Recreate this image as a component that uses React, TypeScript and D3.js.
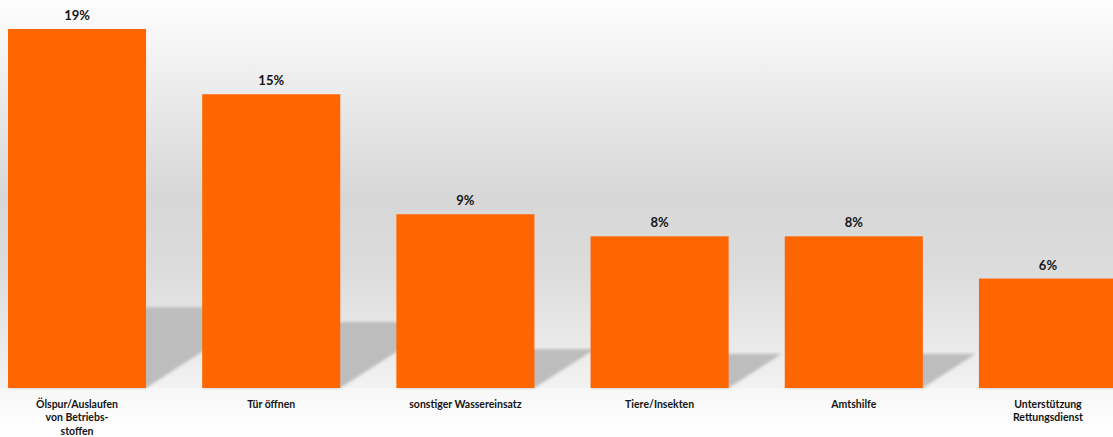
import React, { useEffect } from "react";
import * as d3 from "d3";

const categories: string[] = [
  "Ölspur/Auslaufen\nvon Betriebs-\nstoffen",
  "Tür öffnen",
  "sonstiger Wassereinsatz",
  "Tiere/Insekten",
  "Amtshilfe",
  "Unterstützung\nRettungsdienst",
];
const values: number[] = [18.7, 15.3, 9.05, 7.9, 7.9, 5.7];
const valueLabels: string[] = ["19%", "15%", "9%", "8%", "8%", "6%"];

const W = 1113;
const H = 437;
const BASE = 388;

export default function App() {
  useEffect(() => {
    document.body.style.margin = "0";
  }, []);

  const x = d3
    .scaleBand<string>()
    .domain(categories)
    .range([8, 1117])
    .paddingInner(0.289)
    .paddingOuter(0);
  const y = d3.scaleLinear().domain([0, 20]).range([BASE, 4]);

  const font = "Lato, 'Open Sans', sans-serif";

  return (
    <svg
      width={W}
      height={H}
      style={{ display: "block", position: "absolute", left: 0, top: 0 }}
    >
      <defs>
        <linearGradient id="bg" x1="0" y1="0" x2="0" y2="1">
          <stop offset="0" stopColor="#fdfdfd" />
          <stop offset="0.45" stopColor="#d7d7d7" />
          <stop offset="0.62" stopColor="#dcdcdc" />
          <stop offset="0.888" stopColor="#f2f2f2" />
          <stop offset="0.889" stopColor="#f7f7f7" />
          <stop offset="1" stopColor="#ffffff" />
        </linearGradient>
        <filter id="blur" x="-20%" y="-20%" width="140%" height="140%">
          <feGaussianBlur stdDeviation="1.6" />
        </filter>
      </defs>
      <rect x={0} y={0} width={W} height={H} fill="url(#bg)" />
      <g filter="url(#blur)">
        {categories.map((c, i) => {
          const x0 = x(c)!;
          const x1 = x0 + x.bandwidth();
          const h = BASE - y(values[i]);
          const hs = h * 0.225;
          const dx = hs * 1.55;
          const pts = [
            [x0, BASE],
            [x1, BASE],
            [x1 + dx, BASE - hs],
            [x0 + dx, BASE - hs],
          ];
          return (
            <polygon
              key={"s" + i}
              points={pts.map((p) => p.join(",")).join(" ")}
              fill="#bdbdbd"
            />
          );
        })}
      </g>
      {categories.map((c, i) => {
        const x0 = x(c)!;
        return (
          <rect
            key={"b" + i}
            x={x0}
            y={y(values[i])}
            width={x.bandwidth()}
            height={BASE - y(values[i])}
            fill="#FF6600"
          />
        );
      })}
      {categories.map((c, i) => (
        <text
          key={"v" + i}
          x={x(c)! + x.bandwidth() / 2}
          y={y(values[i]) - 9}
          textAnchor="middle"
          fontFamily={font}
          fontWeight="bold"
          fontSize={13}
          fill="#141414"
        >
          {valueLabels[i]}
        </text>
      ))}
      {categories.map((c, i) => (
        <text
          key={"c" + i}
          x={x(c)! + x.bandwidth() / 2}
          y={408}
          textAnchor="middle"
          fontFamily={font}
          fontWeight="bold"
          fontSize={10.5}
          fill="#141414"
        >
          {c.split("\n").map((line, j) => (
            <tspan key={j} x={x(c)! + x.bandwidth() / 2} dy={j === 0 ? 0 : 13.3}>
              {line}
            </tspan>
          ))}
        </text>
      ))}
    </svg>
  );
}
